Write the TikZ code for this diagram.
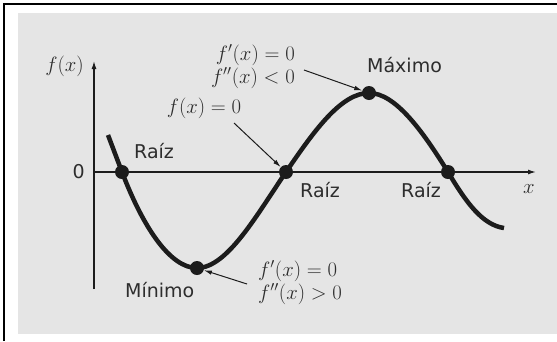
\documentclass[tikz,border=0pt]{standalone}
\usepackage{fontspec}
\newfontfamily\labfont{DejaVu Sans}
\usetikzlibrary{arrows.meta}
\definecolor{bg}{RGB}{229,229,229}
\definecolor{ink}{RGB}{28,28,28}
\definecolor{txt}{RGB}{45,45,45}
\newcommand{\mtxt}[1]{\scalebox{1.2}{$#1$}}
\begin{document}
\begin{tikzpicture}[x=1pt,y=-1pt,
  sanslab/.style={font=\labfont\fontsize{19}{22}\selectfont, text=txt, inner sep=0pt},
  mathlab/.style={font=\fontsize{17.28}{22}\selectfont, text=txt, inner sep=0pt},
  dot/.style={circle, fill=ink, minimum size=14pt, inner sep=0pt},
  axis/.style={line width=1.3pt, draw=ink, -{Latex[length=8pt,width=5pt]}},
  pointer/.style={line width=1pt, draw=ink, -{Latex[length=8pt,width=4.5pt]}},
  curve/.style={line width=4.5pt, draw=ink}]
\useasboundingbox (0,0) rectangle (557,341);
\fill[white] (0,0) rectangle (557,341);
\fill[bg] (18,13) rectangle (557,334);
\draw[line width=1.6pt] (4,341) -- (4,4) -- (557,4);

% axes
\coordinate (O) at (94,172);
\coordinate (ytop) at (94,61);
\coordinate (ybot) at (94,289);
\coordinate (xend) at (536,172);
\draw[axis] (ybot) -- (ytop);
\draw[axis] (O) -- (xend);

% curve
\coordinate (c0) at (108,135);
\coordinate (r1) at (122,172);
\coordinate (mn) at (197,268);
\coordinate (r2) at (286,172);
\coordinate (mx) at (369,93);
\coordinate (r3) at (448,172);
\coordinate (c9) at (504,228);
\draw[curve] (c0) -- (r1) .. controls (143,227) and (170,268) .. (mn)
  .. controls (227,268) and (256,216) .. (r2)
  .. controls (314,131) and (341,93) .. (mx)
  .. controls (395,93) and (422,130) .. (r3)
  .. controls (467,204) and (483,225) .. (c9);

\node[dot] (dr1) at (r1) {};
\node[dot] (dmn) at (mn) {};
\node[dot] (dr2) at (r2) {};
\node[dot] (dmx) at (mx) {};
\node[dot] (dr3) at (r3) {};

% axis labels
\node[mathlab, anchor=base east] (fxl) at (84,71) {\mtxt{f(x)}};
\node[sanslab, anchor=base east] (zero) at (85,178) {0};
\node[mathlab, anchor=base west] (xl) at (523,193) {\mtxt{x}};

% point labels
\node[sanslab, anchor=base west] (raiz1) at (134,158) {Raíz};
\node[sanslab, anchor=base west] (raiz2) at (300,197) {Raíz};
\node[sanslab, anchor=base west] (raiz3) at (401,197) {Raíz};
\node[sanslab, anchor=base west] (maxl) at (367,72) {Máximo};
\node[sanslab, anchor=base west] (minl) at (125,297) {Mínimo};

% conditions
\node[mathlab, anchor=base east] (fp1) at (295,60) {\mtxt{f'(x) = 0}};
\node[mathlab, anchor=base east] (fpp1) at (295,83) {\mtxt{f''(x) < 0}};
\node[mathlab, anchor=base] (f0) at (204,113) {\mtxt{f(x) = 0}};
\node[mathlab, anchor=base west] (fp2) at (258,276) {\mtxt{f'(x) = 0}};
\node[mathlab, anchor=base west] (fpp2) at (258,299) {\mtxt{f''(x) > 0}};

\coordinate (a1) at (304,70);
\coordinate (a2) at (234,123);
\coordinate (a3) at (247,284);
\draw[pointer] (a1) -- (dmx);
\draw[pointer] (a2) -- (dr2);
\draw[pointer] (a3) -- (dmn);
\end{tikzpicture}
\end{document}
